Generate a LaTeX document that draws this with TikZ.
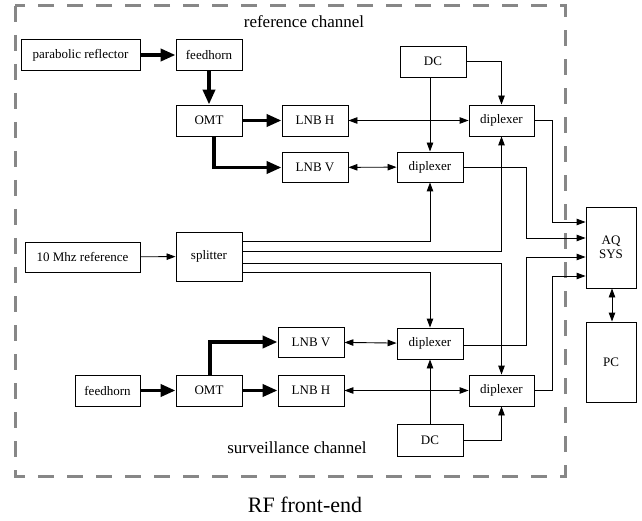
\documentclass[tikz,border=0pt]{standalone}
\usepackage{fontspec}
\setmainfont{Liberation Serif}
\usetikzlibrary{arrows.meta}
\begin{document}
\begin{tikzpicture}[x=1pt,y=-1pt,
  blk/.style={draw, line width=0.9pt, inner sep=0pt, font=\fontsize{13}{14}\selectfont, align=center},
  conn/.style={line width=0.9pt, -{Triangle[length=9pt,width=6.5pt]}},
  biconn/.style={line width=0.9pt, {Triangle[length=9pt,width=6.5pt]}-{Triangle[length=9pt,width=6.5pt]}},
  fat/.style={line width=3.8pt, -{Triangle[length=15pt,width=12pt]}},
  frame/.style={draw=black!47, line width=3pt, dash pattern=on 16pt off 13pt}
]
\useasboundingbox (0,0) rectangle (642,521);
\draw[frame] (15,6) rectangle (565,476);

% reference channel
\node[blk, minimum width=119pt, minimum height=31pt] (refl) at (80.5,55) {parabolic reflector};
\node[blk, minimum width=66pt, minimum height=31pt] (fhA) at (209,55) {feedhorn};
\node[blk, minimum width=66pt, minimum height=31pt] (omtA) at (209,120.5) {OMT};
\node[blk, minimum width=66pt, minimum height=31pt] (lnbhA) at (315,120.5) {LNB H};
\node[blk, minimum width=66pt, minimum height=30pt] (lnbvA) at (315,167.5) {LNB V};
\node[blk, minimum width=66pt, minimum height=31pt] (dcA) at (433,61.5) {DC};
\node[blk, minimum width=65pt, minimum height=31pt] (dipRA) at (501.5,120.5) {diplexer};
\node[blk, minimum width=66pt, minimum height=30pt] (dipMA) at (430,167) {diplexer};

% middle
\node[blk, minimum width=115pt, minimum height=30pt] (tenref) at (82.5,257) {10 Mhz reference};
\node[blk, minimum width=66pt, minimum height=49pt] (split) at (209,256.5) {splitter};
\node[blk, minimum width=50pt, minimum height=81pt] (aq) at (611,247.5) {AQ\\SYS};
\node[blk, minimum width=50pt, minimum height=80pt] (pc) at (611,362) {PC};

% surveillance channel
\node[blk, minimum width=65pt, minimum height=31pt] (fhB) at (107.5,390.5) {feedhorn};
\node[blk, minimum width=66pt, minimum height=31pt] (omtB) at (209,390.5) {OMT};
\node[blk, minimum width=66pt, minimum height=30pt] (lnbvB) at (311,342) {LNB V};
\node[blk, minimum width=66pt, minimum height=31pt] (lnbhB) at (311,390.5) {LNB H};
\node[blk, minimum width=66pt, minimum height=31pt] (dipMB) at (430,343.5) {diplexer};
\node[blk, minimum width=65pt, minimum height=31pt] (dipRB) at (501.5,390.5) {diplexer};
\node[blk, minimum width=66pt, minimum height=32pt] (dcB) at (430,440) {DC};

% labels
\node[font=\fontsize{17}{19}\selectfont] (lblref) at (304,22) {reference channel};
\node[font=\fontsize{17}{19}\selectfont] (lblsur) at (297,448) {surveillance channel};
\node[font=\fontsize{22}{24}\selectfont] (lblrf) at (305,505) {RF front-end};

% thick connectors
\draw[fat] (refl) -- (fhA);
\draw[fat] (fhA) -- (omtA);
\draw[fat] (omtA) -- (lnbhA);
\draw[fat] ([xshift=5pt]omtA.south) |- (lnbvA.west);
\draw[fat] (fhB) -- (omtB);
\draw[fat] (omtB) -- (lnbhB);
\draw[fat] ([xshift=1pt]omtB.north) |- (lnbvB.west);

% reference channel thin connectors
\draw[biconn] (lnbhA) -- (dipRA);
\draw[biconn] (lnbvA) -- (dipMA);
\draw[conn] (dcA.south -| dipMA.north) -- (dipMA.north);
\draw[conn] (dcA.east) -| (dipRA.north);
\draw[conn] (dipRA.east) -| ([xshift=-33pt,yshift=25.5pt]aq.west) -- ([yshift=25.5pt]aq.west);
\draw[conn] (dipMA.east) -| ([xshift=-59pt,yshift=9.5pt]aq.west) -- ([yshift=9.5pt]aq.west);

% splitter
\draw[conn] (tenref) -- (split);
\draw[conn] ([yshift=15.5pt]split.east) -| (dipMA.south);
\draw[conn] ([yshift=5.5pt]split.east) -| (dipRA.south);
\draw[conn] ([yshift=-6.5pt]split.east) -| (dipRB.north);
\draw[conn] ([yshift=-15.5pt]split.east) -| (dipMB.north);

% surveillance channel thin connectors
\draw[biconn] (lnbvB) -- (dipMB);
\draw[biconn] (lnbhB) -- (dipRB);
\draw[conn] (dcB.north) -- (dipMB.south);
\draw[conn] (dcB.east) -| (dipRB.south);
\draw[conn] ([yshift=-1.5pt]dipMB.east) -| ([xshift=-59pt,yshift=-9.5pt]aq.west) -- ([yshift=-9.5pt]aq.west);
\draw[conn] (dipRB.east) -| ([xshift=-33pt,yshift=-28.5pt]aq.west) -- ([yshift=-28.5pt]aq.west);

% AQ SYS <-> PC
\draw[biconn] ([xshift=1pt]aq.south) -- ([xshift=1pt]pc.north);
\end{tikzpicture}
\end{document}
